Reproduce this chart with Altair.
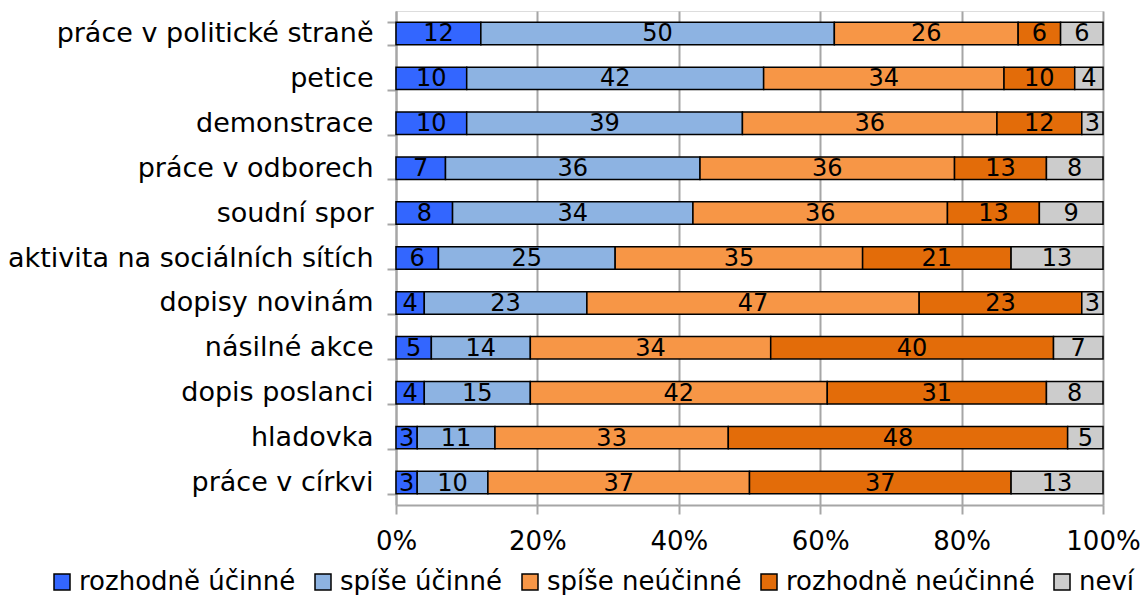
import altair as alt
import pandas as pd

categories = [
    "práce v politické straně", "petice", "demonstrace", "práce v odborech",
    "soudní spor", "aktivita na sociálních sítích", "dopisy novinám",
    "násilné akce", "dopis poslanci", "hladovka", "práce v církvi",
]
series = ["rozhodně účinné", "spíše účinné", "spíše neúčinné", "rozhodně neúčinné", "neví"]
colors = ["#3366FF", "#8DB3E2", "#F79646", "#E36C09", "#CCCCCC"]

rozhodne_ucinne = [12, 10, 10, 7, 8, 6, 4, 5, 4, 3, 3]
spise_ucinne = [50, 42, 39, 36, 34, 25, 23, 14, 15, 11, 10]
spise_neucinne = [26, 34, 36, 36, 36, 35, 47, 34, 42, 33, 37]
rozhodne_neucinne = [6, 10, 12, 13, 13, 21, 23, 40, 31, 48, 37]
nevi = [6, 4, 3, 8, 9, 13, 3, 7, 8, 5, 13]

values = [rozhodne_ucinne, spise_ucinne, spise_neucinne, rozhodne_neucinne, nevi]
rows = []
for si, (s, vals) in enumerate(zip(series, values)):
    for c, v in zip(categories, vals):
        rows.append({"cat": c, "series": s, "order": si, "value": v})
df = pd.DataFrame(rows)

FONT = "DejaVu Sans"

base = alt.Chart(df).transform_stack(
    stack="value", as_=["v0", "v1"], groupby=["cat"],
    sort=[alt.SortField("order", order="ascending")], offset="normalize",
).transform_calculate(mid="(datum.v0 + datum.v1) / 2")

yenc = alt.Y("cat:N", sort=categories, title=None,
             scale=alt.Scale(paddingInner=0.5, paddingOuter=0.25),
             axis=alt.Axis(labelFontSize=27, labelFont=FONT, labelColor="black",
                           tickBand="extent", tickSize=9, tickColor="#a6a6a6",
                           tickWidth=2, domainColor="#a6a6a6", domainWidth=2,
                           labelPadding=14, grid=False, labelLimit=500))

bars = base.mark_bar(stroke="black", strokeWidth=1.5).encode(
    x=alt.X("v0:Q", title=None, scale=alt.Scale(domain=[0, 1], nice=False),
            axis=alt.Axis(format="%", values=[0, 0.2, 0.4, 0.6, 0.8, 1.0],
                          labelFontSize=26, labelFont=FONT, labelColor="black",
                          tickSize=9, tickColor="#a6a6a6", tickWidth=2,
                          domainColor="#a6a6a6", domainWidth=2,
                          grid=True, gridColor="#a6a6a6", gridWidth=2,
                          labelPadding=14, labelFlush=False)),
    x2="v1:Q",
    y=yenc,
    color=alt.Color("series:N", sort=series,
                    scale=alt.Scale(domain=series, range=colors),
                    legend=alt.Legend(title=None, orient="none", direction="horizontal",
                                      columns=5, legendX=-347, legendY=558,
                                      symbolType="square", symbolSize=256,
                                      symbolStrokeColor="black", symbolStrokeWidth=1.5,
                                      labelFontSize=26, labelFont=FONT, labelColor="black",
                                      labelOffset=4, columnPadding=14, padding=0,
                                      labelLimit=500)),
    order=alt.Order("order:Q"),
)

labels = base.mark_text(fontSize=24, font=FONT, color="black", baseline="middle",
                        align="center", dy=1).encode(
    x=alt.X("mid:Q"),
    y=alt.Y("cat:N", sort=categories),
    text=alt.Text("value:Q"),
)

chart = alt.layer(bars, labels).properties(
    width=707, height=494,
    autosize=alt.AutoSizeParams(type="none"),
    padding={"left": 388, "top": 3, "right": 37, "bottom": 90},
).configure_view(stroke=None).configure(font=FONT)

chart.save("out.html", embed_options={"renderer": "svg", "actions": False})
